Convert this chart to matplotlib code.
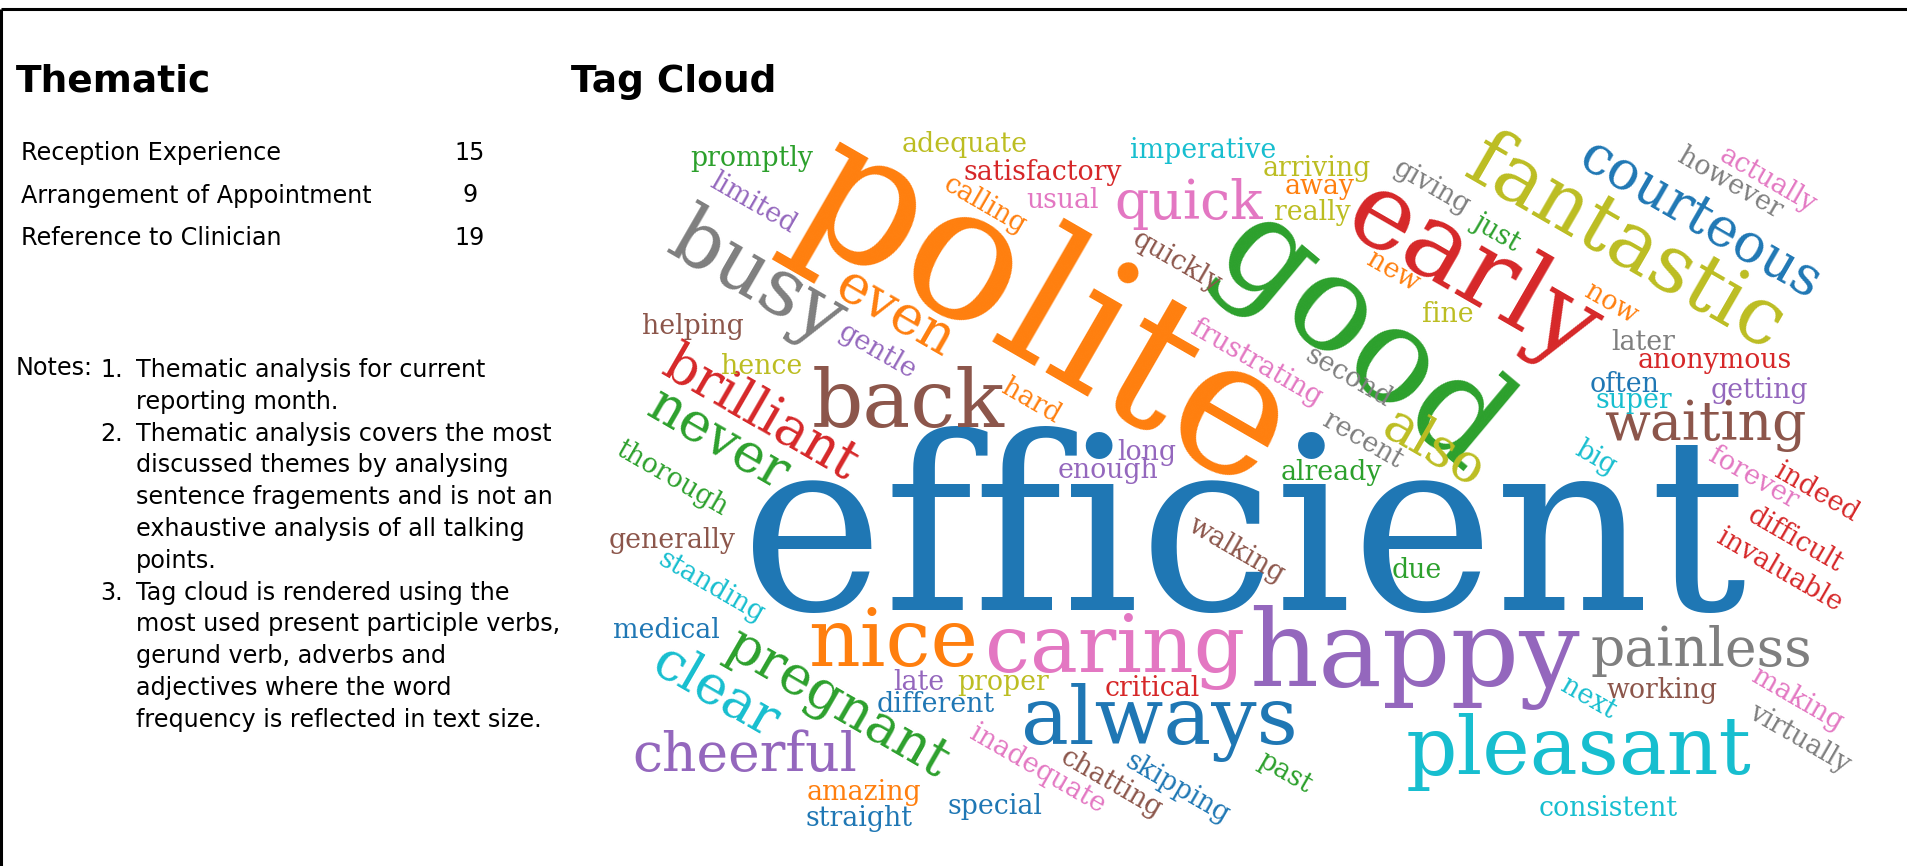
import matplotlib
matplotlib.use("Agg")
import matplotlib.pyplot as plt

W, H = 1908, 866

theme_names = ["Reception Experience", "Arrangement of Appointment", "Reference to Clinician"]
theme_counts = [15, 9, 19]

notes = [
    ("1.", ["Thematic analysis for current", "reporting month."]),
    ("2.", ["Thematic analysis covers the most", "discussed themes by analysing",
            "sentence fragements and is not an", "exhaustive analysis of all talking",
            "points."]),
    ("3.", ["Tag cloud is rendered using the", "most used present participle verbs,",
            "gerund verb, adverbs and", "adjectives where the word",
            "frequency is reflected in text size."]),
]

# word frequencies
words = ["efficient", "polite", "good", "happy", "early",
         "fantastic", "nice", "caring", "always", "pleasant", "back", "busy",
         "quick", "painless", "waiting", "cheerful", "courteous", "even",
         "brilliant", "never", "pregnant", "clear", "also",
         "promptly", "adequate", "satisfactory", "usual", "imperative", "arriving",
         "away", "really", "fine", "later", "anonymous", "getting", "often", "super",
         "helping", "hence", "long", "enough", "already", "due", "generally",
         "medical", "late", "proper", "different", "critical", "working",
         "amazing", "straight", "special", "consistent",
         "limited", "gentle", "calling", "giving", "quickly", "however", "actually",
         "just", "now", "new", "frustrating", "second", "recent", "walking", "hard",
         "thorough", "standing", "big", "forever", "indeed", "difficult",
         "invaluable", "next", "making", "virtually", "inadequate", "chatting",
         "skipping", "past"]
counts = [9, 7, 5, 4, 4,
          3, 3, 3, 3, 3, 3, 3,
          2, 2, 2, 2, 2, 2,
          2, 2, 2, 2, 2] + [1] * 60

# placement of each word: centre x, centre y (pixels), angle, colour
layout = {
    "efficient": (1244, 543, 0, "C0"), "polite": (1045, 315, -30, "C1"),
    "good": (1360, 343, -40, "C2"), "happy": (1415, 658, 0, "C4"),
    "early": (1472, 274, -30, "C3"), "fantastic": (1625, 245, -30, "C8"),
    "nice": (893, 644, 0, "C1"), "caring": (1115, 651, 0, "C6"),
    "always": (1159, 722, 0, "C0"), "pleasant": (1579, 752, 0, "C9"),
    "back": (908, 405, 0, "C5"), "busy": (757, 280, -30, "C7"),
    "quick": (1189, 204, 0, "C6"), "painless": (1701, 651, 0, "C7"),
    "waiting": (1705, 426, 0, "C5"), "cheerful": (745, 756, 0, "C4"),
    "courteous": (1700, 220, -30, "C0"), "even": (895, 313, -30, "C1"),
    "brilliant": (760, 414, -30, "C3"), "never": (718, 440, -30, "C2"),
    "pregnant": (837, 705, -30, "C2"), "clear": (715, 692, -30, "C9"),
    "also": (1433, 448, -30, "C8"),
    "promptly": (752, 159, 0, "C2"), "adequate": (965, 145, 0, "C8"),
    "satisfactory": (1043, 172, 0, "C3"), "usual": (1063, 200, 0, "C6"),
    "imperative": (1203, 150, 0, "C9"), "arriving": (1317, 168, 0, "C8"),
    "away": (1320, 186, 0, "C1"), "really": (1312, 213, 0, "C8"),
    "fine": (1448, 315, 0, "C8"), "later": (1643, 342, 0, "C7"),
    "anonymous": (1715, 360, 0, "C3"), "getting": (1759, 391, 0, "C4"),
    "often": (1625, 384, 0, "C0"), "super": (1634, 401, 0, "C9"),
    "helping": (693, 326, 0, "C5"), "hence": (762, 366, 0, "C8"),
    "long": (1147, 452, 0, "C4"), "enough": (1108, 471, 0, "C4"),
    "already": (1331, 473, 0, "C2"), "due": (1417, 571, 0, "C2"),
    "generally": (672, 540, 0, "C5"), "medical": (666, 630, 0, "C0"),
    "late": (919, 683, 0, "C4"), "proper": (1003, 683, 0, "C8"),
    "different": (936, 704, 0, "C0"), "critical": (1152, 689, 0, "C3"),
    "working": (1662, 691, 0, "C5"), "amazing": (864, 793, 0, "C1"),
    "straight": (859, 818, 0, "C0"), "special": (995, 806, 0, "C0"),
    "consistent": (1608, 808, 0, "C9"),
    "limited": (753, 203, -30, "C4"), "gentle": (877, 352, -30, "C4"),
    "calling": (985, 205, -30, "C1"), "giving": (1432, 187, -30, "C7"),
    "quickly": (1177, 262, -30, "C5"), "however": (1730, 183, -30, "C7"),
    "actually": (1768, 180, -30, "C6"), "just": (1497, 232, -30, "C2"),
    "now": (1611, 304, -30, "C1"), "new": (1393, 272, -30, "C1"),
    "frustrating": (1256, 363, -30, "C6"), "second": (1348, 377, -30, "C7"),
    "recent": (1363, 440, -30, "C7"), "walking": (1237, 550, -30, "C5"),
    "hard": (1031, 401, -30, "C1"), "thorough": (672, 478, -30, "C2"),
    "standing": (711, 587, -30, "C9"), "big": (1596, 458, -30, "C9"),
    "forever": (1753, 478, -30, "C6"), "indeed": (1817, 493, -30, "C3"),
    "difficult": (1795, 540, -30, "C3"), "invaluable": (1779, 571, -30, "C3"),
    "next": (1588, 698, -30, "C9"), "making": (1797, 699, -30, "C6"),
    "virtually": (1800, 738, -30, "C7"), "inadequate": (1038, 769, -30, "C6"),
    "chatting": (1111, 783, -30, "C5"), "skipping": (1177, 788, -30, "C0"),
    "past": (1285, 773, -30, "C2"),
}

PX_PER_COUNT = 26.8  # font em size in pixels for one occurrence

fig = plt.figure(figsize=(W / 100, H / 100), dpi=100)
ax = fig.add_axes([0, 0, 1, 1])
ax.set_xlim(0, W)
ax.set_ylim(H, 0)
ax.axis("off")

# frame
ax.plot([1.5, W], [9, 9], color="black", lw=2.2, solid_capstyle="butt")
ax.plot([1.5, 1.5], [9, H], color="black", lw=2.2, solid_capstyle="butt")

# left panel
ax.text(16, 92, "Thematic", fontsize=27, fontweight="bold", va="baseline")
for i, (name, n) in enumerate(zip(theme_names, theme_counts)):
    y = 160 + i * 42.5
    ax.text(21, y, name, fontsize=17.2, va="baseline")
    ax.text(470, y, str(n), fontsize=17.2, va="baseline", ha="center")

ax.text(16, 375, "Notes:", fontsize=17.2, va="baseline")
line = 0
for num, lines in notes:
    ax.text(100, 377 + line * 31.8, num, fontsize=17.2, va="baseline")
    for txt in lines:
        ax.text(136, 377 + line * 31.8, txt, fontsize=17.2, va="baseline")
        line += 1

# tag cloud
ax.text(571, 92, "Tag Cloud", fontsize=27, fontweight="bold", va="baseline")
for w, c in zip(words, counts):
    x, y, ang, col = layout[w]
    ax.text(x, y, w, fontsize=c * PX_PER_COUNT * 0.72, family="DejaVu Serif",
            color=col, rotation=ang, rotation_mode="anchor",
            ha="center", va="center")

fig.savefig("out.png", dpi=100)
